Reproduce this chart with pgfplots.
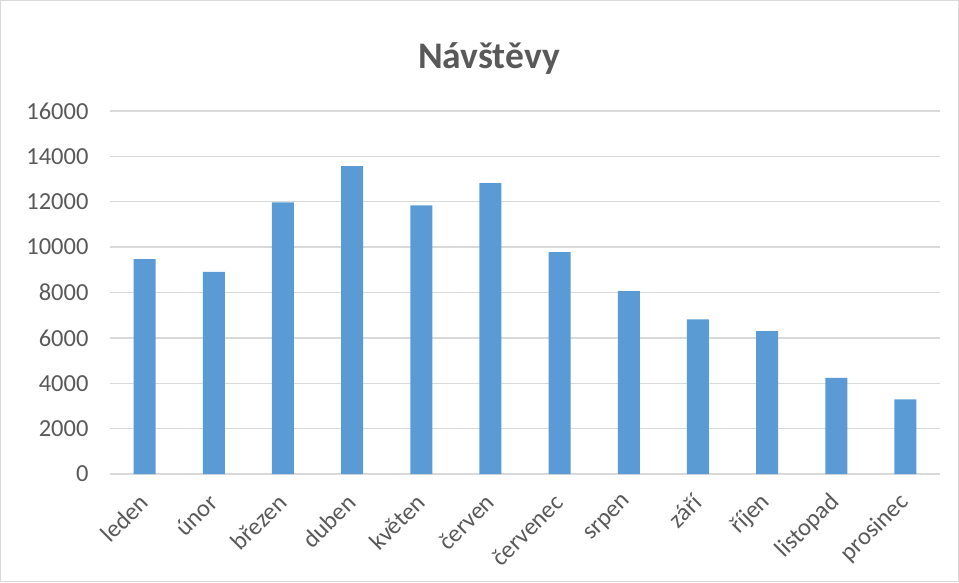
\documentclass[border=0pt]{standalone}
\usepackage{pgfplots}
\pgfplotsset{compat=1.18}
\usepackage{fontspec}
\setmainfont{Carlito}
\definecolor{txt}{HTML}{595959}
\definecolor{gridc}{HTML}{D9D9D9}
\definecolor{barc}{HTML}{5B9BD5}
\begin{document}
\begin{tikzpicture}[x=1pt,y=1pt]
\draw[gridc, line width=1pt] (0.5,0.5) rectangle (958.5,581.5);
\node[txt, font=\fontsize{37.5}{44}\selectfont\bfseries] at (489,523) {Návštěvy};
\begin{axis}[
  at={(110pt,108pt)}, anchor=south west,
  scale only axis, width=830pt, height=363pt,
  ymin=0, ymax=16000, ytick={0,2000,...,16000},
  scaled ticks=false,
  xmin=-0.5, xmax=11.5,
  xtick={0,...,11},
  xticklabels={leden,únor,březen,duben,květen,červen,červenec,srpen,září,říjen,listopad,prosinec},
  ybar, bar width=22pt,
  axis line style={draw=none},
  axis x line*=bottom,
  x axis line style={draw=gridc, line width=1.3pt},
  ymajorgrids, xmajorgrids=false,
  y grid style={draw=gridc, line width=1.3pt},
  major tick length=0pt,
  tick style={draw=none},
  /pgf/number format/assume math mode=true,
  /pgf/number format/1000 sep={},
  ticklabel style={txt, font=\fontsize{24.5}{29}\selectfont},
  yticklabel style={xshift=-18pt},
  xticklabel style={shift={(2pt,-22pt)}, rotate=45, anchor=east},
]
\addplot[fill=barc, draw=none] coordinates {
(0,9470) (1,8910) (2,11970) (3,13570) (4,11840) (5,12820)
(6,9780) (7,8060) (8,6810) (9,6300) (10,4240) (11,3290)};
\end{axis}
\end{tikzpicture}
\end{document}
